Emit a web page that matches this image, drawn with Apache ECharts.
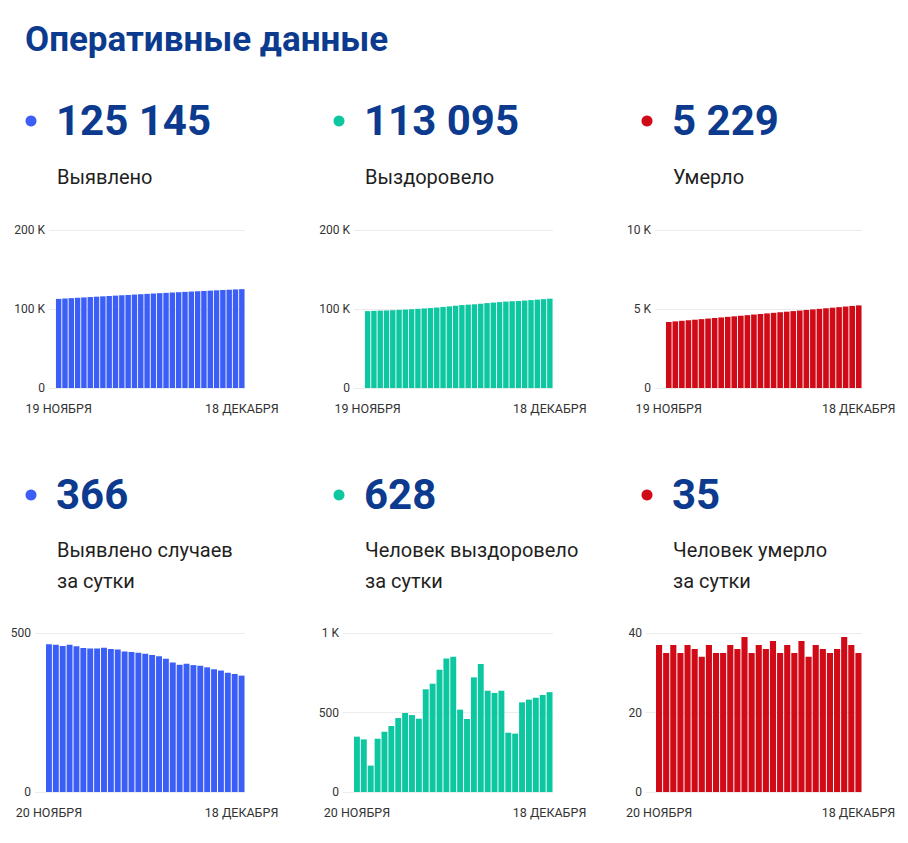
<!DOCTYPE html>
<html><head><meta charset="utf-8">
<script src="https://cdn.jsdelivr.net/npm/echarts@6/dist/echarts.min.js"></script>
<style>html,body{margin:0;padding:0;background:#fff}#c{width:908px;height:843px}</style>
</head><body><div id="c"></div>
<script>
// ---------- DATA ----------
const pageTitle = 'Оперативные данные';
const headlineNumbers = ['125 145', '113 095', '5 229', '366', '628', '35'];
const headlineLabels = [
  ['Выявлено'], ['Выздоровело'], ['Умерло'],
  ['Выявлено случаев', 'за сутки'], ['Человек выздоровело', 'за сутки'], ['Человек умерло', 'за сутки']
];
const datesTotal = ['19 НОЯБРЯ','20 НОЯБРЯ','21 НОЯБРЯ','22 НОЯБРЯ','23 НОЯБРЯ','24 НОЯБРЯ','25 НОЯБРЯ','26 НОЯБРЯ','27 НОЯБРЯ','28 НОЯБРЯ','29 НОЯБРЯ','30 НОЯБРЯ','1 ДЕКАБРЯ','2 ДЕКАБРЯ','3 ДЕКАБРЯ','4 ДЕКАБРЯ','5 ДЕКАБРЯ','6 ДЕКАБРЯ','7 ДЕКАБРЯ','8 ДЕКАБРЯ','9 ДЕКАБРЯ','10 ДЕКАБРЯ','11 ДЕКАБРЯ','12 ДЕКАБРЯ','13 ДЕКАБРЯ','14 ДЕКАБРЯ','15 ДЕКАБРЯ','16 ДЕКАБРЯ','17 ДЕКАБРЯ','18 ДЕКАБРЯ'];
const datesDaily = ['20 НОЯБРЯ','21 НОЯБРЯ','22 НОЯБРЯ','23 НОЯБРЯ','24 НОЯБРЯ','25 НОЯБРЯ','26 НОЯБРЯ','27 НОЯБРЯ','28 НОЯБРЯ','29 НОЯБРЯ','30 НОЯБРЯ','1 ДЕКАБРЯ','2 ДЕКАБРЯ','3 ДЕКАБРЯ','4 ДЕКАБРЯ','5 ДЕКАБРЯ','6 ДЕКАБРЯ','7 ДЕКАБРЯ','8 ДЕКАБРЯ','9 ДЕКАБРЯ','10 ДЕКАБРЯ','11 ДЕКАБРЯ','12 ДЕКАБРЯ','13 ДЕКАБРЯ','14 ДЕКАБРЯ','15 ДЕКАБРЯ','16 ДЕКАБРЯ','17 ДЕКАБРЯ','18 ДЕКАБРЯ'];

const totalDetected = [112820,113285,113748,114207,114670,115128,115581,116032,116483,116937,117387,117835,118277,118717,119155,119590,120021,120448,120867,121274,121674,122077,122476,122873,123265,123651,124033,124408,124779,125145];
const totalRecovered = [97312,97660,97991,98157,98492,98871,99286,99751,100248,100732,101193,101839,102520,103289,104128,104979,105497,105956,106677,107482,108119,108742,109379,109752,110119,110683,111264,111857,112467,113095];
const totalDeaths = [4179,4216,4251,4288,4323,4360,4396,4430,4467,4502,4537,4574,4610,4649,4684,4721,4757,4795,4830,4867,4902,4940,4974,5011,5047,5082,5118,5157,5194,5229];
const dailyDetected = [465,463,459,463,458,453,451,451,454,450,448,442,440,438,435,431,427,419,407,400,403,399,397,392,386,382,375,371,366];
const dailyRecovered = [348,331,166,335,379,415,465,497,484,461,646,681,769,839,851,518,459,721,805,637,623,637,373,367,564,581,593,610,628];
const dailyDeaths = [37,35,37,35,37,36,34,37,35,35,37,36,39,35,37,36,38,35,37,35,38,34,37,36,35,36,39,37,35];

const ticksCases = ['0', '100 K', '200 K'];
const ticksDeaths = ['0', '5 K', '10 K'];
const ticksDailyDetected = ['0', '500'];
const ticksDailyRecovered = ['0', '500', '1 K'];
const ticksDailyDeaths = ['0', '20', '40'];

// ---------- LAYOUT / STYLE ----------
const NAVY = '#0b3a8e';
const colBlue = '#3a5ef6', colGreen = '#0dc7a0', colRed = '#d00b17';
const FONT = 'Roboto, "Noto Sans", sans-serif';

const panels = [
  {cats: datesTotal, data: totalDetected, ticks: ticksCases, max: 200000, step: 100000, color: colBlue,
   wide: [49, 245], bars: [55.5, 245], top: 230, bottom: 388},
  {cats: datesTotal, data: totalRecovered, ticks: ticksCases, max: 200000, step: 100000, color: colGreen,
   wide: [354, 553], bars: [364.5, 553], top: 230, bottom: 388},
  {cats: datesTotal, data: totalDeaths, ticks: ticksDeaths, max: 10000, step: 5000, color: colRed,
   wide: [655, 862], bars: [665.5, 862], top: 230, bottom: 388},
  {cats: datesDaily, data: dailyDetected, ticks: ticksDailyDetected, max: 500, step: 500, color: colBlue,
   wide: [35, 245], bars: [45.5, 245], top: 633, bottom: 792},
  {cats: datesDaily, data: dailyRecovered, ticks: ticksDailyRecovered, max: 1000, step: 500, color: colGreen,
   wide: [343, 553], bars: [353.5, 553], top: 633, bottom: 792},
  {cats: datesDaily, data: dailyDeaths, ticks: ticksDailyDeaths, max: 40, step: 20, color: colRed,
   wide: [646, 862], bars: [655.5, 862], top: 633, bottom: 792}
];
const colX = [31, 339, 647];
const textX = [57, 365, 673];
const dotColors = [colBlue, colGreen, colRed];
const rowNumY = [120, 494];
const rowLabelY = [177, 550];

const grid = [], xAxis = [], yAxis = [], series = [], graphic = [];
panels.forEach((p, i) => {
  const gw = grid.length;
  grid.push({left: p.wide[0], width: p.wide[1] - p.wide[0], top: p.top, height: p.bottom - p.top, outerBoundsMode: 'none'});
  grid.push({left: p.bars[0], width: p.bars[1] - p.bars[0], top: p.top, height: p.bottom - p.top, outerBoundsMode: 'none'});
  xAxis.push({gridIndex: gw, type: 'value', min: 0, max: 1, show: false});
  yAxis.push({gridIndex: gw, type: 'value', min: 0, max: p.max, interval: p.step,
    axisLine: {show: false}, axisTick: {show: false},
    splitLine: {show: true, lineStyle: {color: '#ececec', width: 1}},
    axisLabel: {margin: 4, fontSize: 12, color: '#333', fontFamily: FONT, formatter: (v, idx) => p.ticks[idx]}});
  const n = p.cats.length;
  xAxis.push({gridIndex: gw + 1, type: 'category', data: p.cats, boundaryGap: true,
    axisLine: {show: false}, axisTick: {show: false}, splitLine: {show: false},
    axisLabel: {margin: 14, fontSize: 12.5, color: '#333', fontFamily: FONT,
      interval: (idx) => idx === 0 || idx === n - 1}});
  yAxis.push({gridIndex: gw + 1, type: 'value', min: 0, max: p.max, show: false, splitLine: {show: false}});
  series.push({type: 'bar', xAxisIndex: gw + 1, yAxisIndex: gw + 1, data: p.data,
    barCategoryGap: '14%', itemStyle: {color: p.color}, silent: true});

  const col = i % 3, row = Math.floor(i / 3);
  graphic.push({type: 'circle', shape: {cx: colX[col], cy: rowNumY[row] + 1, r: 5.5}, style: {fill: dotColors[col]}});
  graphic.push({type: 'text', x: textX[col] - 1, y: rowNumY[row],
    style: {text: headlineNumbers[i], fill: NAVY, font: 'bold 42px ' + FONT, textVerticalAlign: 'middle', verticalAlign: 'middle'}});
  headlineLabels[i].forEach((line, k) => {
    graphic.push({type: 'text', x: textX[col], y: rowLabelY[row] + k * 31,
      style: {text: line, fill: '#1f1f1f', font: '20px ' + FONT, textVerticalAlign: 'middle', verticalAlign: 'middle'}});
  });
});
graphic.push({type: 'text', x: 25, y: 39,
  style: {text: pageTitle, fill: NAVY, font: 'bold 35px ' + FONT, textVerticalAlign: 'middle', verticalAlign: 'middle'}});

const chart = echarts.init(document.getElementById('c'), null, {renderer: 'svg', width: 908, height: 843});
chart.setOption({animation: false, backgroundColor: '#fff', grid, xAxis, yAxis, series, graphic});
</script></body></html>
